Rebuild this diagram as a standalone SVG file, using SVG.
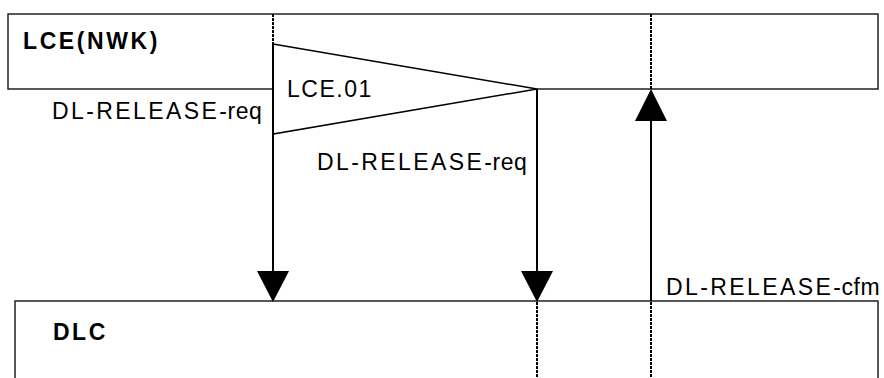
<svg xmlns="http://www.w3.org/2000/svg" width="884" height="378" viewBox="0 0 884 378">
<style>
.box{fill:#fff;stroke:#222;stroke-width:1.5}
.ln{stroke:#000;stroke-width:2;fill:none}
.dot{stroke:#000;stroke-width:2;fill:none;stroke-dasharray:3 1}
.ah{fill:#000}
.t{font-family:"Liberation Sans",Arial,sans-serif;font-size:23px;fill:#000}
.b{font-weight:bold}
</style>
<rect width="884" height="378" fill="#fff"/>
<g id="lce">
<rect class="box" x="8" y="14" width="870" height="75"/>
<text class="t b" x="23" y="49" letter-spacing="2.6">LCE(NWK)</text>
</g>
<g id="dlc">
<path class="box" d="M15,380 V301 H878 V380"/>
<text class="t b" x="53" y="340" letter-spacing="2.5">DLC</text>
</g>
<g id="lce01">
<polygon points="273,44 537,89 273,134" fill="#fff" stroke="#000" stroke-width="1.5"/>
<text class="t" x="287" y="97" letter-spacing="1.5">LCE.01</text>
</g>
<g id="connectors">
<line class="dot" x1="273" y1="14" x2="273" y2="44"/>
<line class="ln" x1="273" y1="44" x2="273" y2="272"/>
<polygon class="ah" points="257,271 289,271 273,302"/>
<line class="ln" x1="537" y1="89" x2="537" y2="272"/>
<polygon class="ah" points="521,271 553,271 537,302"/>
<line class="dot" x1="537" y1="302" x2="537" y2="378"/>
<line class="dot" x1="651" y1="14" x2="651" y2="89"/>
<polygon class="ah" points="651,89 635,121 667,121"/>
<line class="ln" x1="651" y1="120" x2="651" y2="301"/>
<line class="dot" x1="651" y1="302" x2="651" y2="378"/>
<text class="t" x="52" y="119" letter-spacing="2.4">DL-RELEASE<tspan letter-spacing="0.6">-req</tspan></text>
<text class="t" x="317" y="170" letter-spacing="2.4">DL-RELEASE<tspan letter-spacing="0.6">-req</tspan></text>
<text class="t" x="666" y="295" letter-spacing="2.4">DL-RELEASE<tspan letter-spacing="0.6">-cfm</tspan></text>
</g>
</svg>
